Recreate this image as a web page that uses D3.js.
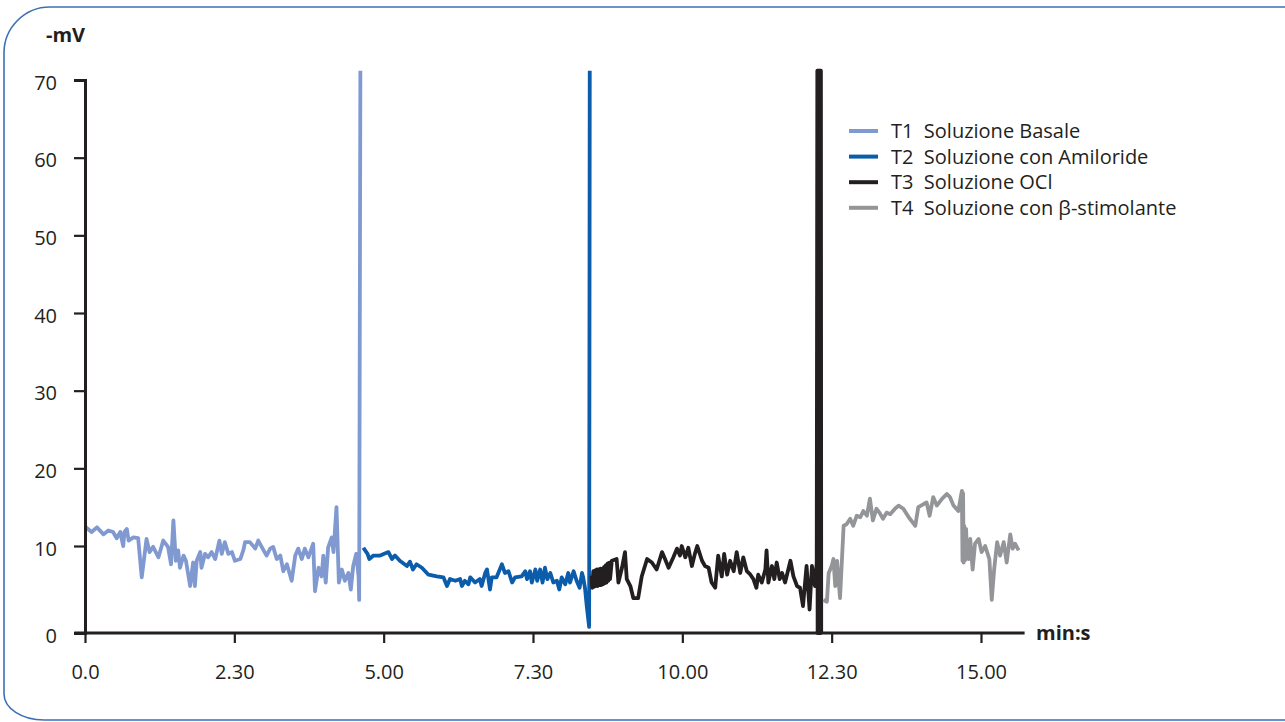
<!DOCTYPE html>
<html>
<head>
<meta charset="utf-8">
<script src="https://cdn.jsdelivr.net/npm/d3@7"></script>
<style>
  body { margin: 0; background: #fff; }
  svg { display: block; font-family: 'Open Sans', sans-serif; }
</style>
</head>
<body>
<div id="chart"></div>
<script>
const width = 1285;
const height = 722;

// [time (min), potential (-mV)]
const t1 = [
  [0, 12.5], [0.11, 11.8], [0.20, 12.4], [0.31, 11.5], [0.39, 12.0], [0.47, 11.8], [0.53, 11.0],
  [0.59, 11.8], [0.64, 10.0], [0.66, 11.8], [0.70, 12.2], [0.73, 10.7], [0.81, 11.1], [0.89, 11.0],
  [0.95, 6.4], [1.03, 10.9], [1.08, 9.3], [1.14, 9.9], [1.23, 8.7], [1.31, 10.7], [1.39, 9.9],
  [1.44, 7.9], [1.48, 13.3], [1.52, 8.3], [1.56, 9.5], [1.59, 7.5], [1.65, 8.9], [1.69, 8.3],
  [1.76, 5.4], [1.81, 8.1], [1.84, 5.4], [1.87, 8.3], [1.93, 9.3], [1.95, 7.5], [2.01, 9.1],
  [2.06, 8.7], [2.12, 9.3], [2.18, 8.5], [2.25, 10.7], [2.29, 9.1], [2.34, 10.5], [2.40, 9.1],
  [2.46, 9.3], [2.51, 8.3], [2.60, 8.5], [2.65, 9.5], [2.68, 10.5], [2.76, 10.5], [2.85, 9.7],
  [2.90, 10.7], [2.99, 9.5], [3.04, 8.9], [3.10, 9.7], [3.15, 9.9], [3.21, 8.5], [3.27, 8.9],
  [3.32, 7.1], [3.38, 7.9], [3.46, 6.0], [3.52, 8.9], [3.57, 9.7], [3.63, 8.5], [3.68, 9.7],
  [3.74, 8.7], [3.82, 10.3], [3.85, 4.8], [3.91, 7.5], [3.96, 6.5], [3.99, 8.9], [4.03, 5.8],
  [4.07, 9.8], [4.13, 11.1], [4.16, 9.3], [4.21, 15.0], [4.25, 5.8], [4.30, 7.3], [4.35, 6.0],
  [4.41, 6.9], [4.45, 5.0], [4.49, 7.7], [4.54, 9.1], [4.58, 6.5], [4.59, 3.8], [4.61, 71.2]
];

const t2 = [
  [4.66, 9.8], [4.73, 9.1], [4.76, 8.5], [4.83, 8.9], [4.94, 8.9], [5.08, 9.3], [5.14, 8.5],
  [5.19, 8.9], [5.27, 8.3], [5.39, 7.7], [5.44, 8.2], [5.49, 7.3], [5.55, 7.9], [5.64, 7.5],
  [5.75, 6.7], [5.89, 6.5], [6.00, 6.4], [6.06, 5.4], [6.11, 6.2], [6.20, 6.0], [6.28, 6.2],
  [6.31, 5.4], [6.36, 6.0], [6.42, 5.6], [6.45, 6.4], [6.53, 5.8], [6.61, 6.2], [6.64, 5.4],
  [6.70, 6.9], [6.73, 7.3], [6.78, 5.0], [6.81, 6.4], [6.89, 6.4], [6.98, 7.9], [7.03, 6.9],
  [7.09, 7.1], [7.15, 5.8], [7.20, 6.4], [7.31, 6.5], [7.37, 7.1], [7.40, 6.2], [7.45, 7.1],
  [7.48, 5.8], [7.54, 7.3], [7.57, 6.0], [7.62, 7.3], [7.66, 5.8], [7.70, 7.5], [7.74, 6.2],
  [7.79, 6.9], [7.84, 5.8], [7.90, 6.0], [7.94, 5.0], [7.98, 6.4], [8.04, 5.6], [8.09, 6.9],
  [8.12, 5.8], [8.18, 7.1], [8.23, 6.0], [8.28, 5.2], [8.32, 6.9], [8.34, 6.4], [8.37, 5.2],
  [8.40, 3.1], [8.44, 0.7], [8.45, 71.2]
];

const t3 = [
  [8.48, 6.6], [8.49, 5.2], [8.51, 7.1], [8.52, 5.3], [8.54, 7.2], [8.55, 5.4], [8.57, 7.3],
  [8.58, 5.4], [8.60, 7.3], [8.61, 5.5], [8.63, 7.4], [8.64, 5.5], [8.66, 7.4], [8.67, 5.6],
  [8.69, 7.6], [8.70, 5.7], [8.72, 7.8], [8.73, 5.8], [8.75, 8.0], [8.76, 6.0], [8.78, 8.1],
  [8.79, 6.2], [8.82, 8.3], [8.90, 8.5], [8.93, 5.8], [8.99, 7.5],
  [9.04, 9.3], [9.07, 6.2], [9.13, 5.4], [9.18, 4.0], [9.26, 4.0], [9.32, 6.5], [9.41, 8.5],
  [9.49, 8.1], [9.57, 7.3], [9.66, 9.3], [9.71, 8.5], [9.77, 7.5], [9.85, 8.7], [9.91, 9.7],
  [9.96, 8.9], [9.99, 10.0], [10.05, 8.7], [10.10, 9.8], [10.16, 7.7], [10.21, 9.1], [10.25, 10.0],
  [10.33, 8.3], [10.38, 7.7], [10.44, 7.5], [10.49, 5.8], [10.55, 5.2], [10.60, 8.9], [10.66, 6.5],
  [10.70, 9.1], [10.75, 6.7], [10.80, 8.3], [10.86, 7.1], [10.91, 9.3], [10.97, 6.9], [11.02, 8.7],
  [11.08, 7.1], [11.14, 6.7], [11.19, 6.2], [11.24, 5.2], [11.27, 6.7], [11.33, 5.8], [11.39, 7.3],
  [11.41, 9.5], [11.44, 5.8], [11.50, 7.7], [11.54, 6.2], [11.58, 8.1], [11.63, 6.2], [11.67, 6.9],
  [11.72, 5.8], [11.81, 8.3], [11.86, 6.5], [11.92, 5.4], [11.97, 5.2], [12.02, 3.1], [12.06, 6.2],
  [12.08, 7.7], [12.13, 2.7], [12.17, 7.7], [12.22, 5.4], [12.25, 8.1],
  [12.26, 71.2], [12.265, 0], [12.27, 71.2], [12.275, 0], [12.28, 71.2], [12.285, 0],
  [12.29, 71.2], [12.295, 0], [12.30, 71.2], [12.305, 0], [12.31, 71.2], [12.315, 0],
  [12.32, 71.2], [12.325, 0]
];

const t4 = [
  [12.36, 3.8], [12.42, 3.6], [12.45, 6.9], [12.50, 7.7], [12.53, 8.5], [12.56, 5.4], [12.59, 8.3],
  [12.64, 4.0], [12.70, 12.6], [12.75, 12.8], [12.81, 13.5], [12.86, 12.6], [12.92, 13.9],
  [12.98, 13.7], [13.03, 14.5], [13.09, 13.9], [13.14, 16.1], [13.19, 13.3], [13.25, 14.8],
  [13.30, 14.3], [13.36, 13.5], [13.42, 14.3], [13.48, 14.1], [13.56, 14.8], [13.62, 15.2],
  [13.70, 14.8], [13.79, 13.7], [13.90, 12.6], [13.95, 15.0], [14.04, 15.4], [14.09, 15.6],
  [14.14, 13.9], [14.20, 16.3], [14.26, 15.2], [14.35, 16.1], [14.43, 16.7], [14.48, 16.3],
  [14.54, 15.2], [14.62, 14.5], [14.68, 17.1], [14.69, 8.3], [14.70, 16.8], [14.71, 8.1],
  [14.72, 12.6], [14.74, 8.4], [14.75, 12.2], [14.77, 8.6], [14.79, 8.5],
  [14.82, 10.9], [14.86, 7.3], [14.90, 10.3], [14.96, 10.9], [15.01, 9.3], [15.07, 10.0],
  [15.14, 8.5], [15.18, 3.8], [15.22, 7.3], [15.27, 10.5], [15.32, 8.9], [15.38, 10.5],
  [15.43, 8.1], [15.49, 11.5], [15.53, 9.7], [15.57, 10.3], [15.63, 9.5]
];

const seriesTitles = [
  'T1  Soluzione Basale',
  'T2  Soluzione con Amiloride',
  'T3  Soluzione OCl',
  'T4  Soluzione con \u03B2-stimolante'
];

const xTickValues = [0, 2.5, 5, 7.5, 10, 12.5, 15];
const xTickLabels = ['0.0', '2.30', '5.00', '7.30', '10.00', '12.30', '15.00'];
const yTickValues = [0, 10, 20, 30, 40, 50, 60, 70];

const colors = ['#8099d0', '#0b5cab', '#231f20', '#949599'];
const ink = '#231f20';

const series = [t1, t2, t3, t4].map((data, i) => ({
  title: seriesTitles[i],
  color: colors[i],
  data
}));

const x = d3.scaleLinear()
  .domain([0, 15])
  .range([85, 981]);

// the zero line sits a little below the regular 10-unit spacing
const y = d3.scaleLinear()
  .domain([0, 10, 70])
  .range([633, 546, 80]);

const svg = d3.select('#chart').append('svg')
  .attr('width', width)
  .attr('height', height);

// rounded frame, open to the right
svg.append('path')
  .attr('d', 'M1300,7H50A46,46 0 0 0 4,53V694A40,26 0 0 0 44,720H1300')
  .attr('fill', 'none')
  .attr('stroke', '#3b70b8')
  .attr('stroke-width', 1.6);

const line = d3.line()
  .x(d => x(d[0]))
  .y(d => y(d[1]));

svg.append('g')
  .selectAll('path')
  .data(series)
  .join('path')
    .attr('d', d => line(d.data))
    .attr('fill', 'none')
    .attr('stroke', d => d.color)
    .attr('stroke-width', 3.8)
    .attr('stroke-linejoin', 'round');

// axes
const xAxis = svg.append('g')
  .attr('transform', `translate(0,${y(0)})`)
  .call(d3.axisBottom(x)
    .tickValues(xTickValues)
    .tickFormat((d, i) => xTickLabels[i])
    .tickSize(10)
    .tickSizeOuter(0)
    .tickPadding(22));

xAxis.select('.domain')
  .attr('d', `M${x(-0.18)},0H${x(15.73)}`);

const yAxis = svg.append('g')
  .attr('transform', `translate(${x(0)},0)`)
  .call(d3.axisLeft(y)
    .tickValues(yTickValues)
    .tickSize(11)
    .tickPadding(17));

yAxis.selectAll('text').attr('dy', '0.45em');

[xAxis, yAxis].forEach(g => {
  g.attr('font-family', null).attr('font-size', null);
  g.select('.domain').attr('stroke', ink).attr('stroke-width', 3);
  g.selectAll('.tick line').attr('stroke', ink).attr('stroke-width', 2.2);
  g.selectAll('.tick text')
    .style('font-size', '20px')
    .attr('fill', ink);
});
yAxis.select('.tick line').attr('stroke-width', 0);

// axis titles
svg.append('text')
  .attr('x', 46)
  .attr('y', 42)
  .style('font-size', '20px')
  .style('font-weight', 'bold')
  .attr('fill', ink)
  .text('-mV');

svg.append('text')
  .attr('x', 1036)
  .attr('y', 640)
  .style('font-size', '20px')
  .style('font-weight', 'bold')
  .attr('fill', ink)
  .text('min:s');

// legend
const legend = svg.append('g')
  .selectAll('g')
  .data(series)
  .join('g')
    .attr('transform', (d, i) => `translate(849,${131 + i * 25.6})`);

legend.append('line')
  .attr('x1', 0)
  .attr('x2', 29)
  .attr('stroke', d => d.color)
  .attr('stroke-width', 4);

legend.append('text')
  .attr('x', 42)
  .attr('y', 7)
  .style('font-size', '20px')
  .attr('fill', ink)
  .style('white-space', 'pre')
  .text(d => d.title);
</script>
</body>
</html>
